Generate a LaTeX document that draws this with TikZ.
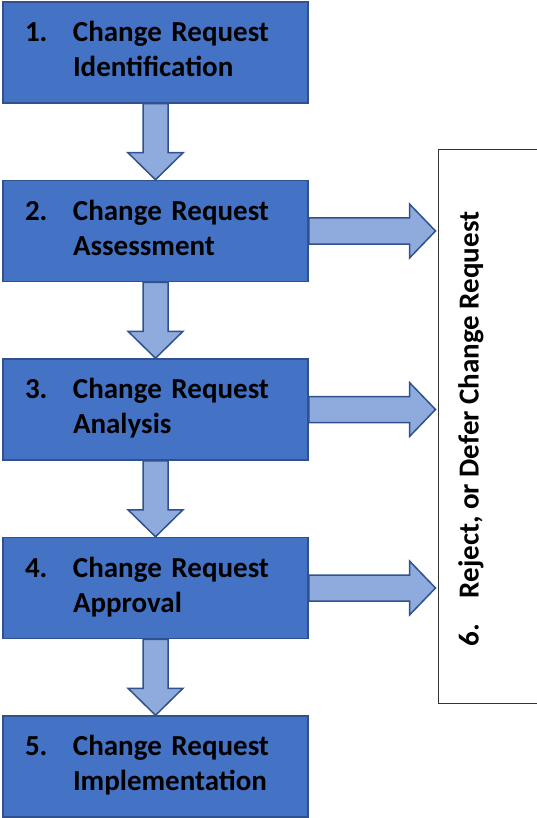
\documentclass[tikz,border=0pt]{standalone}
\usepackage{fontspec}
\setmainfont{Carlito}
\usepackage{tikz}
\usetikzlibrary{calc}
\usetikzlibrary{positioning}

\definecolor{boxfill}{HTML}{4472C4}
\definecolor{boxline}{HTML}{2F528F}
\definecolor{arrowfill}{HTML}{8FAADC}

\tikzset{
  stepbox/.style={rectangle,draw=boxline,fill=boxfill,line width=1.5pt,
    minimum width=305pt,minimum height=101pt,text width=261pt,inner xsep=22pt,
    text depth=42pt,align=left,font=\bfseries\fontsize{29}{35}\selectfont},
  blockarrow/.style={draw=boxline,fill=arrowfill,line width=1.5pt},
  vblock/.style={blockarrow,to path={let \p1=(\tikztostart), \p2=(\tikztotarget) in
    (\x1-12.5pt,\y1) -- (\x1-12.5pt,\y2+27pt) -- (\x1-27.5pt,\y2+27pt) -- (\x1,\y2)
    -- (\x1+27.5pt,\y2+27pt) -- (\x1+12.5pt,\y2+27pt) -- (\x1+12.5pt,\y1) -- cycle}},
  hblock/.style={blockarrow,to path={let \p1=(\tikztostart), \p2=(\tikztotarget) in
    (\x1,\y1+13pt) -- (\x2-28pt,\y1+13pt) -- (\x2-28pt,\y1+27pt) -- (\x2-2pt,\y1)
    -- (\x2-28pt,\y1-27pt) -- (\x2-28pt,\y1-13pt) -- (\x1,\y1-13pt) -- cycle}}
}

\begin{document}
\begin{tikzpicture}[x=1pt,y=-1pt,node distance=178.5pt]
  \useasboundingbox (0,0) rectangle (537,818);

  \node[stepbox] (b1) at (155.5,52.5) {\makebox[48pt][l]{1.}Change Request\\\hspace*{48pt}Identification};
  \node[stepbox] (b2) [below of=b1] {\makebox[48pt][l]{2.}Change Request\\\hspace*{48pt}Assessment};
  \node[stepbox] (b3) [below of=b2] {\makebox[48pt][l]{3.}Change Request\\\hspace*{48pt}Analysis};
  \node[stepbox] (b4) [below of=b3] {\makebox[48pt][l]{4.}Change Request\\\hspace*{48pt}Approval};
  \node[stepbox] (b5) [below of=b4] {\makebox[48pt][l]{5.}Change Request\\\hspace*{48pt}Implementation};

  \node[rectangle,draw=black!80,line width=1pt,minimum width=124pt,minimum height=553pt] (rej) at (500,426.5) {};
  \node[rotate=90,font=\bfseries\fontsize{29}{35}\selectfont] (rejtext) at (471,429)
    {\makebox[48pt][l]{6.}Reject, or Defer Change Request};

  \path
    (b1.south) edge[vblock] (b2.north)
    (b2.south) edge[vblock] (b3.north)
    (b3.south) edge[vblock] (b4.north)
    (b4.south) edge[vblock] (b5.north)
    (b2.east) edge[hblock] (b2.east -| rej.west)
    (b3.east) edge[hblock] (b3.east -| rej.west)
    (b4.east) edge[hblock] (b4.east -| rej.west);
\end{tikzpicture}
\end{document}
